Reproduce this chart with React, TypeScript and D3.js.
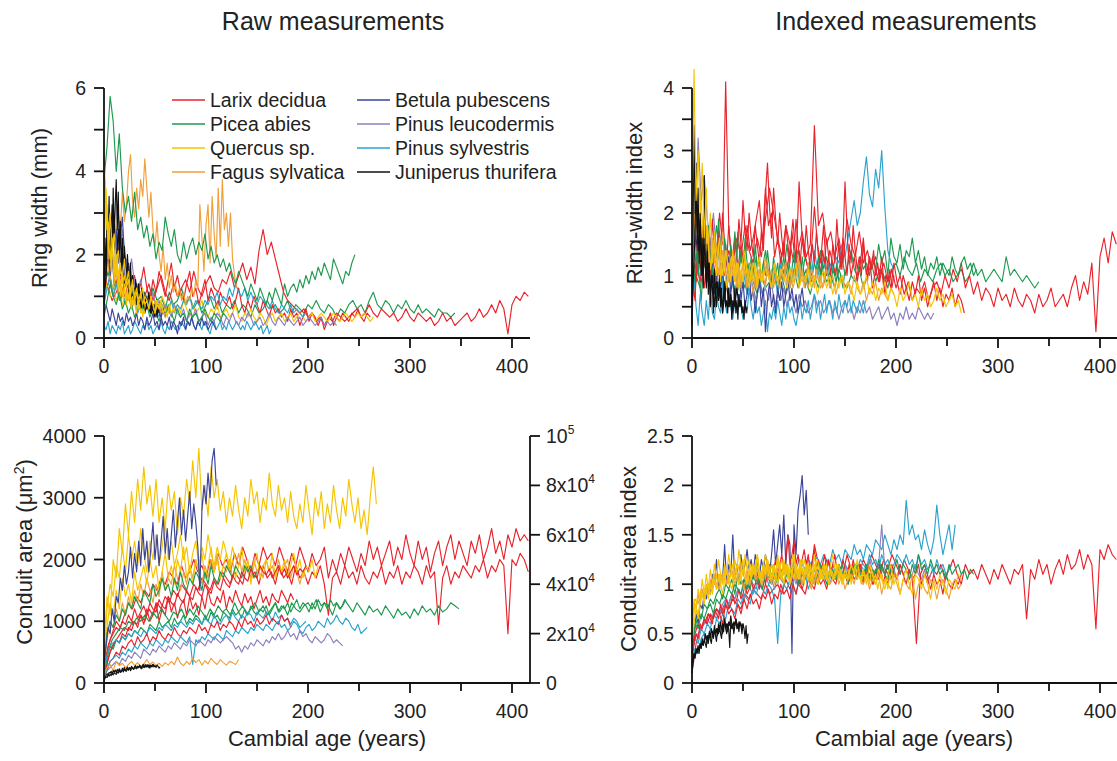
import React from 'react';
import * as d3 from 'd3';

const speciesNames = [
  'Larix decidua', 'Picea abies', 'Quercus sp.', 'Fagus sylvatica',
  'Betula pubescens', 'Pinus leucodermis', 'Pinus sylvestris', 'Juniperus thurifera',
];
const speciesColors = ['#e8232b', '#1e9a4f', '#f5c400', '#f0a03a', '#3a4399', '#8c80bd', '#2aa3cf', '#111111'];

const xTicks = [0, 50, 100, 150, 200, 250, 300, 350, 400];

// ---- ring width, raw (mm) ----
const rwLarixA = [1.4,1.2,0.9,1.1,1.3,1.0,1.2,0.8,1.1,0.9,1.0,1.3,0.9,1.2,1.5,1.1,0.9,1.3,1.0,1.2,1.4,1.1,1.6,1.2,1.0,1.3,1.5,1.2,1.1,1.4,1.3,1.6,1.2,1.5,1.8,1.4,1.7,1.3,2.1,2.6,2.0,2.3,1.9,1.5,1.1,0.9,0.8,0.7,0.6,0.7,0.5,0.6,0.4,0.5,0.3,0.5,0.4,0.6,0.5,0.4,0.5,0.6,0.7,0.5,0.6,0.8,0.6,0.5,0.7,0.6,0.5,0.6,0.4,0.5,0.7,0.5,0.4,0.6,0.5,0.4,0.5,0.3,0.4,0.6,0.4,0.5,0.3,0.4,0.5,0.6,0.4,0.5,0.7,0.5,0.6,0.8,0.6,0.9,0.7,0.1,0.8,1.0,0.9,1.1,1.0];
const rwLarixB = [1.8,1.2,1.5,1.0,1.3,1.6,1.1,1.4,0.9,1.2,1.5,1.0,1.3,1.7,1.2,0.9,1.4,1.1,1.6,1.3,1.0,1.4,1.8,1.2,1.5,1.1,0.9,1.3,1.6,1.0,1.2,0.8,1.1,1.4,0.9,1.2,1.0,0.7,1.1,0.9,0.8,1.0,0.7,0.9,1.2,0.8,0.6,0.9,0.7,1.0,0.8,0.6,0.9,0.7,0.5,0.8,0.6,0.7,0.5,0.6,0.4,0.7,0.5,0.6,0.3,0.5,0.7,0.4,0.6,0.5,0.3,0.5,0.2,0.4,0.6,0.3,0.5,0.4,0.6,0.5,0.4,0.6,0.5,0.7,0.5,0.4,0.6,0.5];
const rwPiceaA = [3.8,4.6,5.8,5.2,4.0,4.9,3.6,3.0,3.4,2.8,3.5,2.6,2.9,2.4,2.7,2.2,2.5,1.9,2.3,2.1,2.9,2.5,2.2,2.6,2.0,1.8,2.3,1.9,2.2,2.4,2.0,2.3,2.1,2.5,1.9,2.2,1.8,2.0,1.7,1.9,1.6,1.8,1.5,1.3,1.6,1.4,1.2,1.0,1.3,1.1,0.9,1.2,1.0,0.8,1.1,0.9,1.2,1.0,0.8,1.3,1.0,1.2,1.3,1.1,1.4,1.2,1.5,1.3,1.6,1.4,1.7,1.5,1.8,1.6,1.4,1.9,1.7,1.5,1.3,1.6,1.5,1.8,2.0];
const rwPiceaB = [1.2,1.6,1.1,1.4,0.9,1.2,1.5,1.0,1.3,0.9,1.1,0.8,1.2,0.9,1.0,0.7,1.1,0.8,0.9,1.2,0.8,1.0,0.7,0.9,0.6,0.8,1.0,0.7,0.9,0.6,0.8,0.7,0.9,0.6,0.8,0.7,0.5,0.8,0.6,0.7,0.9,0.7,0.8,0.6,0.7,0.9,0.6,0.8,0.7,0.6,0.8,0.7,0.9,0.7,0.6,0.8,0.7,0.5,0.7,0.6,0.8,0.9,0.7,0.8,0.6,0.9,1.1,0.8,0.7,0.9,0.8,0.6,0.8,0.7,0.9,0.7,0.6,0.8,0.6,0.7,0.6,0.5,0.7,0.6,0.6,0.5,0.6];
const rwPiceaC = [0.6,0.9,1.3,1.0,0.8,1.1,0.7,0.9,0.6,0.8,0.5,0.7,0.9,0.6,0.8,0.5,0.7,0.6,0.4,0.7,0.5,0.8,0.6,0.4,0.7,0.5,0.6,0.4,0.7,0.5,0.6,0.4,0.5,0.7,0.5,0.4,0.6,0.5,0.4,0.6,0.5];
const rwQuercusA = [4.4,3.2,2.6,3.0,2.2,2.5,1.8,2.1,1.6,1.4,1.9,1.3,1.6,1.1,1.4,1.0,1.2,0.9,1.1,0.8,1.0,0.9,0.7,1.0,0.8,0.6,0.9,0.7,0.8,0.6,0.7,0.5,0.8,0.6,0.7,0.6];
const rwQuercusB = [2.8,3.6,2.4,1.9,2.2,1.7,2.0,1.5,1.8,1.3,1.5,1.2,1.4,1.0,1.3,0.9,1.1,0.8,1.0,1.2,0.8,0.9,0.7,1.0,0.8,0.6,0.8,0.7,0.9,0.6,0.7];
const rwQuercusC = [1.5,1.2,1.0,1.3,0.9,1.1,0.8,1.0,1.2,0.8,0.9,1.1,0.7,0.9,1.0,0.8,0.6,0.9,0.7,1.0,0.8,0.6,0.9,0.7,0.8,0.6,0.9,0.7,0.5,0.8,0.6,0.7,0.9,0.6,0.5,0.7,0.6,0.8,0.5,0.6,0.7,0.5,0.6,0.8,0.5,0.4,0.6,0.5,0.7,0.5,0.4,0.6,0.5,0.3,0.5,0.6,0.4,0.5,0.6,0.4,0.5,0.6,0.4,0.5,0.6,0.5,0.4,0.5,0.6,0.4,0.5,0.6,0.5,0.4,0.5,0.6,0.5,0.4,0.5,0.6,0.5,0.4,0.5,0.6,0.5,0.6,0.5,0.4,0.5];
const rwQuercusD = [2.0,3.8,2.6,3.2,1.9,2.8,2.2,1.6,2.4,1.8,1.3,2.1,1.5,1.9,1.2,1.6,1.0,1.4,1.1,0.9,1.3,1.0,0.8,1.2,0.9,1.1,0.8,0.7,1.0,0.8,0.9,0.7,0.6,0.9,0.7,0.8,0.6,0.7,0.5,0.7,0.6];
const rwFagusA = [1.8,2.2,1.6,2.5,2.0,2.8,2.4,3.0,2.6,3.5,2.8,3.2,4.0,4.4,3.3,2.9,3.6,3.1,3.8,3.4,4.3,3.6,2.9,3.5,2.6,2.2,2.8,2.0,1.6,2.2,1.4,1.8,1.2,1.5,1.1,1.3,1.0,1.2,0.9,1.1,0.8,1.0,0.9,1.2,1.0,1.4,1.2,3.2,2.4,1.6,2.7,3.2,1.8,3.4,2.5,1.9,3.6,2.2,3.8,2.6,3.0,2.2,3.0,1.9,1.5,1.2];
const rwFagusB = [1.5,2.2,1.8,1.4,1.9,1.3,1.6,1.1,1.4,1.0,1.2,0.9,1.3,1.0,0.8,1.1,0.9,1.2,0.8,1.0,0.7,0.9,1.1,0.8,0.6,0.9,0.7,0.8,0.6,0.7,0.5];
const rwBetulaA = [0.5,0.8,0.6,0.4,0.7,0.5,0.3,0.6,0.4,0.5,0.3,0.6,0.4,0.5,0.3,0.4,0.6,0.3,0.5,0.4,0.2,0.5,0.3,0.4,0.6,0.3,0.4,0.2,0.5,0.3,0.4,0.3,0.5,0.2,0.4,0.3,0.1,0.4,0.3,0.5,0.2,0.4,0.3,0.5,0.3,0.2,0.4,0.3,0.5,0.3,0.4,0.2,0.3,0.4,0.3,0.2];
const rwBetulaB = [1.0,1.6,2.2,1.5,2.0,1.3,2.6,1.8,2.4,2.9,2.0,1.5,1.8,1.2,1.5,1.0,1.3,0.9,1.1,0.8,1.0,0.7,0.9,0.6,0.8,0.5,0.7,0.6,0.5,0.7,0.6];
const rwLeucoA = [1.5,2.2,2.8,3.0,2.4,2.0,2.6,1.8,1.5,1.9,1.3,1.1,1.4,0.9,1.0,0.8,1.1,0.7,0.9,0.6,0.8,0.7,0.5,0.8,0.6,0.5,0.7,0.4,0.6,0.5,0.7,0.4,0.5,0.6,0.3,0.5,0.4,0.6,0.5,0.3,0.5,0.4,0.6,0.4,0.3,0.5,0.4,0.6,0.5,0.3,0.4,0.5,0.3,0.4,0.6,0.4,0.3,0.5,0.4,0.3,0.5,0.4,0.3,0.4,0.5,0.3,0.4,0.5,0.4,0.3,0.4,0.5,0.3,0.4,0.3,0.4,0.3];
const rwLeucoB = [1.0,1.8,2.5,2.1,2.9,2.4,2.0,2.6,1.7,2.2,1.5,1.9,1.3,1.6,1.2,1.4,1.0,1.3,0.9,1.1,0.8,1.0,0.7,0.9,0.8,0.6,0.8,0.7,0.5,0.7,0.6];
const rwSylvA = [0.3,0.2,0.4,0.1,0.3,0.2,0.1,0.3,0.2,0.4,0.1,0.2,0.3,0.1,0.2,0.4,0.3,0.2,0.1,0.3,0.2,0.4,0.2,0.3,0.1,0.2,0.3,0.2,0.4,0.2,0.1,0.3,0.2,0.4,0.3,0.2,0.3,0.2,0.4,0.3,0.2,0.4,0.3,0.5,0.3,0.2,0.4,0.3,0.2,0.4,0.3,0.2,0.1,0.3,0.4,0.2,0.3,0.4,0.2,0.3,0.2,0.4,0.3,0.2,0.3,0.4,0.3,0.2,0.3,0.2,0.4,0.3,0.2,0.3,0.4,0.3,0.2,0.3,0.1,0.2,0.3,0.1,0.2];
const rwSylvB = [0.8,1.2,1.5,1.0,1.3,0.9,1.1,0.8,1.0,0.7,0.9,0.6,0.8,0.7,0.9,0.6,0.8,0.7,0.5,0.8,0.6,0.7,0.9,0.6,0.8,0.7,0.9,0.8,1.0,0.7,0.9,0.8,0.7,0.9,0.8,1.0,0.9,1.1,0.8,1.0,0.9,1.2,1.0,1.3,1.1,1.0,1.2,0.9,1.1,0.9,0.8,1.0,0.9,0.8,0.7,0.9,0.7,0.6,0.8,0.7,0.6,0.8,0.6,0.7,0.6,0.5,0.6];
const rwJuniperusA = [1.2,2.4,1.5,3.0,2.2,3.4,1.8,2.6,2.0,3.6,2.4,3.2,3.8,2.6,3.5,2.0,2.8,1.6,2.4,1.4,2.2,1.8,1.3,2.0,1.5,1.2,1.8,1.0,1.5,1.2,0.9,1.4,1.1,0.8,1.3,1.0,0.7,1.2,0.9,1.1,0.8,1.0,0.7,0.9,1.1,0.8,0.6,0.9,0.7,0.8,0.6,0.7,0.5,0.8,0.6];
const rwJuniperusB = [0.8,1.5,2.8,2.0,3.2,2.4,1.8,2.6,1.5,2.0,1.2,1.6,1.0,1.4,0.9,1.2,0.8,1.0,0.7,0.9,0.6,0.8,0.7,0.6,0.7,0.5];

// ---- ring-width index ----
const riLarixA = [0.8,1.2,0.9,1.5,1.1,1.3,0.9,1.2,1.0,1.4,1.2,1.6,1.3,1.8,1.4,1.2,1.6,1.3,1.9,2.4,2.0,1.6,1.3,1.8,1.5,1.2,1.4,1.7,1.3,1.5,3.4,1.8,2.0,1.5,1.7,1.3,1.6,1.2,1.9,1.5,1.3,1.7,1.2,1.4,1.1,1.3,1.0,1.2,0.9,1.1,0.8,1.0,0.7,0.9,0.6,0.8,0.7,0.9,0.6,0.8,0.9,0.7,1.0,0.8,1.1,0.9,1.2,0.8,1.0,0.7,0.9,0.6,0.8,0.7,0.5,0.8,0.6,0.7,0.5,0.8,0.6,0.5,0.7,0.6,0.4,0.7,0.5,0.6,0.8,0.5,0.6,0.7,0.5,0.8,1.0,0.6,0.9,0.7,1.2,0.1,1.3,1.6,1.2,1.7,1.5];
const riLarixB = [1.0,0.6,1.8,1.2,0.8,1.4,1.0,1.6,1.3,2.0,1.5,4.1,1.8,1.2,1.6,1.1,1.5,1.2,1.8,1.4,1.6,1.9,2.2,1.5,2.4,1.8,2.0,1.3,1.6,1.2,1.5,1.1,1.4,1.9,1.2,2.5,1.6,1.3,1.1,1.4,2.1,1.5,1.2,1.8,1.0,1.4,1.2,1.0,1.5,1.1,2.5,1.4,1.0,1.3,0.9,1.2,1.6,1.0,1.3,0.8,1.1,0.9,1.3,0.7,1.0,0.8,1.2,0.9,0.7,1.0,0.8,0.6,0.9,0.7,1.0,0.6,0.8,0.5,0.7,0.9,0.6,0.8,0.5,0.7,0.6,0.8,0.5,0.7,0.6,0.4];
const riLarixC = [0.6,1.2,0.9,1.5,1.1,1.8,1.3,1.0,1.6,1.2,1.9,1.4,1.1,1.7,1.3,2.0,1.5,1.2,1.8,1.4,1.1,1.6,1.3,1.9,1.5,2.2,1.7,1.4,2.0,1.6,1.3,1.8,1.5,1.2,1.7,1.4,2.3,2.8,2.1,1.6,2.4,1.9,1.5,2.0,1.6,1.3,1.8,1.5,1.2,1.7,1.4,1.9,1.5,1.2,1.6,1.3,1.8,1.4,1.1,1.5,1.2,1.7,1.3,1.0,1.4,1.2,1.6,1.3,1.0,1.5,1.2,1.9,1.4,1.1,1.6,1.3,1.0,1.5,1.2,1.8,1.4,1.1,1.3,1.0,1.5,1.2,0.9,1.3,1.1,1.4,1.0,1.2,0.9,1.1,0.8,1.0,0.9,1.1,0.8,1.0];
const riPiceaA = [1.5,0.8,1.2,0.6,1.4,1.0,1.6,1.2,1.8,1.4,1.1,1.5,0.9,1.3,1.0,1.7,1.2,1.4,0.9,1.2,1.0,1.3,0.8,1.1,1.4,1.0,0.8,1.2,0.9,1.3,1.0,1.5,1.1,0.9,1.2,1.4,1.0,1.3,1.1,0.9,1.2,1.0,1.4,1.1,1.3,1.0,1.2,0.9,1.1,1.3,1.0,1.2,1.4,1.1,1.0,1.3,1.1,1.2,1.0,1.3,1.1,1.5,1.2,1.4,1.0,1.6,1.3,1.2,1.5,1.1,1.4,1.3,1.6,1.2,1.4,1.1,1.3,1.0,1.2,1.1,1.3,1.0,1.2,1.1,1.0,1.3,1.1,1.0,1.2,1.3,1.1,1.2,1.0,1.1];
const riPiceaB = [0.6,1.0,0.8,1.2,0.9,1.1,0.7,1.0,0.8,1.1,0.9,0.7,1.0,0.8,1.2,0.9,0.7,1.0,0.8,0.9,1.1,0.8,1.0,0.7,0.9,1.1,0.8,1.0,0.9,0.7,1.0,0.8,1.1,0.9,1.0,0.8,1.1,0.9,0.8,1.0,0.9,1.1,0.8,1.0,1.2,0.9,1.1,1.0,0.8,1.1,1.2,1.0,1.3,1.1,1.0,1.2,0.9,1.1,1.0,0.9,1.1,1.2,1.0,1.1,0.9,1.0,1.1,0.9,1.0,1.2,1.0,1.1,0.9,1.0,1.1,1.0,0.9,1.3,1.0,1.1,1.0,0.9,1.0,0.9,0.8,0.9];
const riPiceaC = [1.2,0.9,1.4,1.0,1.7,1.2,1.5,1.1,1.8,1.3,1.0,1.5,1.2,1.9,1.4,1.1,1.6,1.3,1.0,1.5,1.2,1.7,1.3,1.0,1.4,1.1,1.6,1.2,0.9,1.3,1.0,1.5,1.1,1.3,0.9,1.2,1.0,1.4,1.1,0.9,1.3,1.0,1.2,0.8,1.1,1.3,1.0,1.2,0.9,1.1,1.4,1.0,1.2,0.9,1.3,1.0,1.1,0.8,1.2,1.0,0.9,1.1,1.3,1.0,1.2,0.9,1.1,1.0,0.8,1.1,1.0,1.2,0.9,1.0,0.8,1.1];
const riQuercusA = [1.8,4.3,2.2,3.0,2.0,2.8,1.6,2.4,1.4,2.0,1.2,1.7,1.0,1.5,0.9,1.3,1.1,0.8,1.2,0.9,1.4,1.0,1.2,0.8,1.1,0.9,1.3,1.0,0.8,1.1,0.9,1.2,0.8,1.0,0.9,1.1];
const riQuercusB = [1.4,2.9,1.6,2.2,1.3,1.8,1.1,1.5,1.2,1.6,1.0,1.4,1.1,1.3,0.9,1.2,1.0,1.4,1.1,0.9,1.2,1.0,1.3,0.9,1.1,1.0,0.8,1.2,0.9,1.1,1.0,0.8,1.1,0.9,1.2,0.8,1.0,0.9,1.1,0.8,1.0,0.7,0.9,1.1,0.8,1.0,0.7,0.9,0.8,1.0,0.7,0.9,0.8,0.6,0.9,0.7,0.8,1.0,0.7,0.9,0.6,0.8,0.7,0.9,0.6,0.8,0.7,0.5,0.8,0.6,0.7,0.9,0.6,0.7,0.5,0.8,0.6,0.7,0.5,0.6,0.8,0.6,0.7,0.5,0.6,0.7,0.5,0.6,0.4];
const riFagusA = [1.2,1.8,2.2,1.5,2.0,1.6,1.3,1.8,1.4,1.1,1.6,1.2,1.5,1.0,1.3,1.7,1.1,1.4,0.9,1.2,1.0,1.3,0.8,1.1,0.9,1.2,1.0,0.8,1.1,0.9,0.7,1.0,0.8,1.1,0.9,1.0,0.8,1.2,0.9,1.1,0.8,1.0,0.9,0.8,1.1,0.9,1.2,1.0,0.8,1.1,0.9,1.0,1.3,0.9,1.1,0.8,1.0,1.2,0.9,1.0,0.8,1.1,0.9,1.0,0.8,0.9];
const riFagusB = [1.3,2.0,1.6,1.2,1.8,1.4,1.1,1.5,1.2,1.0,1.4,1.1,0.9,1.3,1.0,1.2,0.8,1.1,0.9,1.2,1.0,0.8,1.1,0.9,1.3,1.0,0.8,1.1,0.9,1.0,1.2,0.9,1.1,0.8,1.0,1.2,0.9,1.0,0.8,1.1,0.9,1.0,0.8,0.9,1.1,0.8,1.0,0.7,0.9,1.0,0.8,0.9,0.7,1.0,0.8,0.7,0.9,0.6,0.8,0.7,0.9,0.6,0.8,0.7,0.6,0.8,0.7];
const riBetulaA = [1.0,2.0,1.4,1.8,1.2,1.6,2.2,1.0,1.4,0.8,1.2,0.7,1.0,1.5,0.8,1.1,0.6,0.9,1.3,0.7,1.0,0.5,0.8,1.2,0.6,0.9,0.5,0.7,1.1,0.6,0.8,0.4,0.7,1.0,0.5,0.8,0.1,0.6,0.9,0.5,0.7,0.4,0.8,0.6,0.9,0.5,0.7,1.0,0.6,0.8,0.5,0.7,0.4,0.6,0.8,0.5];
const riLeucoA = [0.8,1.6,3.2,2.2,2.6,1.9,1.5,2.0,1.4,1.7,1.2,1.5,1.0,1.3,0.9,1.2,0.8,1.1,0.7,1.0,0.8,0.6,0.9,0.7,0.8,0.6,0.9,0.5,0.7,0.6,0.8,0.5,0.7,0.6,0.4,0.7,0.5,0.6,0.4,0.5,0.7,0.5,0.6,0.4,0.5,0.6,0.4,0.5,0.3,0.5,0.6,0.4,0.5,0.3,0.5,0.4,0.6,0.4,0.5,0.3,0.4,0.5,0.3,0.4,0.5,0.3,0.4,0.2,0.4,0.3,0.5,0.3,0.4,0.3,0.5,0.4,0.3,0.4,0.3,0.4];
const riSylvA = [0.3,1.0,0.5,0.2,0.7,0.4,0.2,0.6,0.3,0.8,0.4,0.3,0.7,0.5,0.4,0.9,0.6,0.4,0.8,0.5,0.3,0.6,0.4,0.7,0.5,0.3,0.6,0.4,0.8,0.5,0.3,0.6,0.4,0.5,0.2,0.4,0.6,0.1,0.4,0.3,0.5,0.3,0.6,0.4,0.2,0.5,0.3,0.6,0.4,0.5,0.3,0.2,0.4,0.6,0.3,0.5,0.4,0.6,0.3,0.5,0.7,0.4,0.6,0.3,0.5,0.7,0.4,0.6,0.5,0.3,0.6,0.4,0.7,0.5,0.4,0.6,0.5,0.7,0.4,0.6,0.5,0.4,0.6,0.5,0.4,0.6];
const riSylvB = [1.2,0.8,1.5,1.0,1.3,0.9,1.2,0.8,1.1,0.7,1.0,0.8,1.2,0.9,0.7,1.1,0.8,1.0,0.7,0.9,1.2,0.8,1.0,0.7,0.9,1.1,0.8,1.0,0.7,1.2,0.9,1.1,0.8,1.0,1.3,0.9,1.1,0.8,1.2,1.0,1.4,1.1,0.9,1.3,1.0,1.2,1.1,1.3,1.2,1.5,1.3,1.6,1.9,2.2,1.8,2.0,2.5,2.9,2.3,2.1,2.7,2.4,3.0,2.1,1.4,1.2,1.1];
const riJuniperusA = [0.2,1.8,3.4,2.0,2.8,1.5,2.4,1.2,2.0,1.0,1.6,0.8,2.6,1.2,0.9,1.5,0.7,1.2,0.5,1.0,0.8,0.4,1.1,0.7,0.5,0.9,0.6,1.0,0.5,0.8,0.4,0.7,0.9,0.5,0.6,0.4,0.8,0.5,0.7,0.3,0.6,0.5,0.8,0.4,0.6,0.3,0.7,0.5,0.6,0.4,0.5,0.3,0.6,0.4,0.5];
const riJuniperusB = [0.5,1.2,2.4,1.4,1.9,1.0,1.5,0.8,1.2,0.7,1.0,0.5,0.9,0.6,0.8,0.4,0.7,0.9,0.5,0.7,0.4,0.6,0.8,0.5,0.6,0.4];

// ---- conduit area, raw (µm²) ----
const caQuercusA = [600,1400,1100,2000,1700,2500,2100,2900,2400,3100,2600,3300,2800,3500,2900,3200,2700,3300,2600,3000,2500,3200,2800,3100,2400,3000,2700,3300,2900,3600,3000,3800,2800,3200,2700,3500,3000,3300,2800,3100,2600,3000,2700,3200,2800,2500,3000,2700,3300,2900,3100,2600,3000,2800,3400,2900,2700,3200,2800,3000,2600,3100,2700,2500,2900,2600,3200,2800,2400,3000,2700,3100,2500,2900,2600,3200,2800,2500,3000,2700,3300,2900,2600,3000,2500,2800,2400,3000,3500,2900];
const caQuercusB = [400,900,1300,1100,1500,1200,1700,1400,1600,1300,1800,1500,1700,1900,1600,2000,1700,1900,1500,1800,2100,1700,1900,1600,2000,1800,2200,1700,1900,1600,2000,1800,2100,1700,1900,2200,1800,2000,1700,1900,2100,1800,2000,1700,1900,2200,1800,2000,1600,1900,2100,1700,1900,2000,1800,2100,1700,1900,1800,2000,1700,1900,2100,1800,2000,1700,1900,1800,2000,1700,1900];
const caQuercusC = [500,1200,1600,1400,1900,1700,2200,1800,2400,2000,2300,1900,2500,2100,1800,2300,2000,2400,1900,2200,2600,2000,2300,1900,2100,2400,2000,2200,1800,2100,2300,1900,2200,2000,2400,2100,1900,2200,2000,2300,2100,1900,2200,2000];
const caFagusA = [150,250,300,200,350,280,320,250,300,350,280,330,260,310,380,300,340,280,320,270,330,290,350,300,420,320,280,350,300,400,330,380,290,360,310,400,340,300,380,330,290,350,330,300,380];
const caFagusB = [300,700,1000,900,1200,1000,1300,1100,1400,1200,1500,1300,1600,1400,1700,1500,1300,1600,1400,1800,1500,1700,1600,1900,1700,1500,1800,1600,1900,1700,2000,1800,1600,1900,1700,2000,1800,2100,1700,1900,1800,2000,1700,1900,2100,1800,2000,1800,1700,2000,1800,1900,1700,2000,1800,1900,1700,2000,1800,1900,2000,1700,1900,1800,1600,1800,1700];
const caBetulaA = [300,600,900,800,1200,1000,1400,1300,1700,1500,1900,1600,1800,2200,1700,2100,1800,2300,1900,2500,2000,2300,1800,2200,2600,2000,2400,1900,2300,2700,2100,2500,2000,2400,2800,2200,2600,3000,2400,2800,2300,2700,3100,2500,2900,2600,2200,1500,2800,3200,2900,3400,3000,3600,3800,3200];
const caLarixA = [200,600,800,1000,900,1100,1300,1200,1400,1300,1500,1400,1600,1500,1700,1600,1800,1700,1600,1900,1700,1800,2000,1800,1900,1700,2000,1800,2100,1900,2000,1800,2100,1900,2200,2000,1800,2100,1900,2200,2000,2100,1900,2200,2000,1800,2100,1900,2200,2000,1800,2100,1900,2000,2200,1700,2000,1800,2100,1900,2200,2000,1800,2100,1900,2300,2000,2200,1900,2100,2300,1900,2200,2000,2400,2100,1900,2300,2000,2200,1800,2100,2300,1900,2200,2400,2000,2300,2100,1900,2300,2100,2400,2000,2200,2500,2100,2300,2000,2400,2200,2500,2300,2400,2300];
const caLarixB = [100,400,600,700,800,900,850,1000,950,1100,1000,1200,1100,1300,1200,1400,1300,1500,1400,1600,1500,1400,1600,1500,1700,1600,1500,1700,1600,1800,1700,1600,1800,1700,1600,1900,1700,1800,1600,1900,1700,1800,1600,1900,1700,1800,1600,1900,1700,1800,1600,1800,1700,1900,1600,1100,1700,1800,1600,1900,1700,1800,1600,1900,1700,1600,1800,1700,1900,1600,1800,1700,1900,1600,1800,1700,1900,1800,1600,1900,1700,1800,950,1700,1900,1600,1800,1700,1900,1800,1700,1900,1800,2000,1700,1900,1800,2000,1900,800,2000,1900,2100,2000,1800];
const caLarixC = [100,300,500,600,700,650,800,750,900,850,1000,900,1100,950,1200,1000,1100,1300,1000,1200,1100,1400,1150,1300,1050,1250,1350,1100,1400,1200,1300,1100,1400,1200,1500,1300,1250,1400,1300,1500,1200,1400,1300,1500,1350,1250,1450,1300,1400,1200,1350,1500,1300,1400,1250,1450,1350,1300,1500,1400,1300,1450,1350];
const caLarixD = [100,200,350,400,500,450,600,550,650,700,600,750,650,700,800,650,750,700,850,750,700,800,750,900,800,750,850,800,900,850,800,950,850,900,800,950,900,1000,850,950,900,1000,950,850,1000,900,1050,950,1000,900,1050,950,1000,1100,950,1050,1000,950,1100,1000,1050,900];
const caLarixE = [150,500,700,800,900,850,1000,950,1100,1000,1200,1050,1150,1250,1100,1300,1200,1150,1350,1250,1200,1400,1300,1250,1450,1350,1300,1500,1400,1350,1550,1450,1400,1600,1500,1450,1650,1550,1500,1700,1600,1550,1750,1650,1600,1800,1700,1650,1850,1750,1700,1900,1800,1750,1850,1700,1800,1900,1750,1850,1700,1800,1900,1750,1850,1800,1900];
const caPiceaA = [200,500,700,800,900,850,1000,950,1050,1000,1100,1000,1150,1050,1200,1100,1000,1150,1100,1200,1050,1200,1100,1250,1150,1050,1200,1100,1250,1150,1200,1100,1300,1150,1250,1100,1200,1300,1150,1250,1100,1200,1300,1150,1250,1100,1300,1200,1150,1250,1300,1200,1350,1150,1300,1250,1100,1300,1200,1350,1250,1150,1300,1200,1100,1250,1150,1200,1100,1250,1150,1050,1200,1100,1150,1050,1200,1100,1250,1150,1200,1100,1250,1150,1200,1300,1250,1200];
const caPiceaB = [150,400,600,550,700,650,750,700,800,750,850,800,900,850,800,950,900,850,1000,900,950,1000,900,1050,950,1000,1100,950,1050,1000,1100,1050,950,1100,1000,1150,1050,1100,1000,1150,1100,1050,1200,1100,1150,1050,1200,1100,1250,1150,1100,1200,1150,1250,1100,1200,1300,1150,1250,1200,1300,1150,1250,1350,1200,1300,1250,1150,1300,1200,1350,1250,1300,1200,1350,1250,1300,1200,1250,1350];
const caPiceaC = [300,800,1000,900,1100,1000,1200,1100,1300,1200,1400,1300,1200,1500,1400,1300,1600,1400,1500,1700,1500,1600,1400,1700,1500,1800,1600,1500,1700,1600,1800,1700,1500,1800,1600,1900,1700,1600,1800,1700,1900,1800,1700,1900,1800,1700,1900,1800,1900,1700,1800];
const caLeucoA = [100,200,250,300,350,300,400,350,450,400,500,450,400,550,500,450,550,500,600,550,500,600,550,650,600,550,650,600,700,650,600,700,650,600,700,650,750,700,650,700,750,700,650,550,600,500,600,550,650,600,700,650,600,700,650,750,700,800,700,750,850,750,800,700,850,750,800,700,650,750,700,650,700,800,750,650,700,650,600];
const caSylvA = [100,250,350,400,450,400,500,450,550,500,600,550,650,600,550,650,600,700,650,600,700,650,750,700,650,750,700,650,750,300,700,650,750,700,800,750,700,800,750,700,850,800,750,850,800,900,850,800,900,850,950,900,850,950,900,850,950,1000,900,950,850,900,1000,950,850,800,900,950,850,900,1000,950,900,1050,950,1000,1100,1000,950,1050,1000,900,850,950,800,850,900];
const caSylvB = [200,450,600,650,700,650,750,700,800,750,850,800,750,850,800,900,850,800,900,850,950,900,850,950,900,1000,950,900,1000,950,1050,1000,950,1050,1000,950,1100,1000,950,1050,1100,1000,1150,1050,1000,1100,1050,1150,1100,1000,1150,1100,1050,1150,1100,1000,1150,1050,1100,1000,1050,950,1050,1000,900,950,1000];
const caJuniperusA = [50,100,120,150,130,170,160,190,150,200,180,210,170,220,190,230,200,180,240,210,250,200,230,260,210,250,230,270,240,220,260,280,240,270,250,290,260,230,280,300,250,280,260,300,270,240,290,270,300,260,280,250,290,270,240,260];
const caJuniperusB = [30,80,100,90,130,110,140,120,160,130,170,150,140,180,160,200,170,190,210,180,220,200,190,230,210,240,200,230,250,220,260,240,230,270,250,280,240,260,290,250,270,300,260,280,250,290,270,260,300,280,270];

// ---- conduit-area index ----
const ciLarixA = [0.1,0.4,0.55,0.6,0.7,0.65,0.75,0.7,0.8,0.75,0.85,0.8,0.75,0.9,0.85,0.95,0.9,0.85,1.0,0.9,0.95,1.0,0.9,1.05,0.95,1.1,1.0,0.95,1.1,1.05,1.4,1.2,1.1,1.25,1.15,1.05,1.2,1.1,1.3,1.15,1.2,1.1,1.25,1.15,1.3,1.2,1.1,1.25,1.15,1.3,1.2,1.1,1.25,1.15,1.05,0.4,1.1,1.2,1.05,1.15,1.1,1.2,1.05,1.15,1.25,1.1,1.0,1.2,1.1,1.15,1.05,1.2,1.1,1.0,1.15,1.05,1.2,1.1,1.0,1.15,1.1,1.2,0.65,1.15,1.05,1.25,1.1,1.2,1.0,1.15,1.25,1.1,1.3,1.15,1.2,1.35,1.15,1.3,1.2,0.55,1.35,1.25,1.4,1.3,1.25];
const ciLarixB = [0.3,0.5,0.6,0.55,0.65,0.6,0.7,0.65,0.75,0.7,0.6,0.8,0.7,0.75,0.65,0.8,0.7,0.85,0.75,0.9,0.8,0.85,0.75,0.9,0.85,0.95,0.8,0.9,0.85,1.0,0.9,0.95,0.85,1.0,0.9,1.05,0.95,0.9,1.05,1.0,0.95,1.1,1.0,1.05,0.95,1.1,1.05,1.0,1.15,1.05,1.1,1.0,1.15,1.05,1.1,1.2,1.05,1.15,1.1,1.0,1.15,1.05,1.2,1.1,1.0,1.15,1.1,1.05,1.2,1.1,1.0,1.15,1.05,1.1,1.2,1.0,1.1,1.05,0.95,1.1,1.0,1.05,0.9,1.1,1.0,0.95,1.05,1.0,1.1];
const ciLarixC = [0.2,0.4,0.5,0.45,0.6,0.55,0.65,0.6,0.7,0.65,0.6,0.75,0.7,0.65,0.8,0.7,0.75,0.85,0.75,0.8,0.9,0.8,0.85,0.95,0.85,0.9,1.0,0.9,0.95,1.05,0.95,1.0,1.1,0.95,1.05,1.15,1.0,1.1,1.2,1.05,1.15,1.25,1.1,1.2,1.3,1.15,1.25,1.5,1.2,1.3,1.45,1.2,1.3,1.15,1.25,1.35,1.2,1.3,1.1,1.25,1.35,1.15,1.25,1.1,1.2,1.3,1.15,1.25,1.1,1.2,1.3,1.15,1.2,1.1,1.25,1.15,1.05,1.2,1.1,1.25,1.15,1.05,1.2,1.1,1.0,1.15,1.05,1.2,1.1,1.0,1.15,1.05,1.2,1.1,1.0,1.15,1.1,1.05,1.2,1.1];
const ciPiceaA = [0.4,0.55,0.7,0.65,0.8,0.75,0.85,0.8,0.9,0.95,0.85,1.0,0.95,1.05,0.9,1.1,1.0,1.05,0.95,1.1,1.05,1.2,1.0,1.1,1.15,1.05,1.2,1.1,1.0,1.15,1.1,1.2,1.05,1.15,1.1,1.0,1.15,1.05,1.2,1.1,1.15,1.05,1.2,1.1,1.0,1.15,1.1,1.05,1.2,1.1,1.15,1.0,1.1,1.2,1.05,1.15,1.1,1.2,1.05,1.15,1.1,1.25,1.15,1.1,1.2,1.05,1.15,1.25,1.1,1.2,1.15,1.05,1.2,1.1,1.3,1.15,1.2,1.1,1.25,1.15,1.2,1.1,1.15,1.05,1.2,1.1,1.15,1.2,1.1,1.15,1.05,1.15,1.1];
const ciPiceaB = [0.45,0.6,0.55,0.7,0.65,0.75,0.8,0.7,0.85,0.8,0.9,0.85,0.95,0.9,1.0,0.95,0.9,1.05,1.0,0.95,1.1,1.0,1.05,0.95,1.1,1.05,1.0,1.1,1.05,1.15,1.0,1.1,1.05,1.15,1.1,1.0,1.1,1.05,1.15,1.1,1.05,1.15,1.1,1.2,1.05,1.1,1.15,1.05,1.1,1.2,1.1,1.05,1.15,1.1,1.2,1.1,1.05,1.15,1.1,1.05,1.15,1.1,1.2,1.1,1.05,1.15,1.1];
const ciQuercusA = [0.5,0.8,0.7,0.9,0.85,1.0,0.9,1.05,0.95,1.1,1.0,1.15,1.05,0.95,1.1,1.2,1.05,1.15,1.0,1.2,1.1,1.25,1.05,1.15,1.3,1.1,1.2,1.05,1.25,1.15,1.0,1.2,1.1,1.3,1.15,1.05,1.25,1.1,1.2,1.0,1.15,1.25,1.1,1.2,1.05,1.15,1.3,1.1,1.2,1.0,1.15,1.05,1.2,1.1,1.25,1.05,1.15,1.0,1.2,1.1,1.0,1.15,1.05,0.95,1.1,1.2,1.0,1.1,0.9,1.05,1.15,1.0,0.9,1.1,1.05,0.95,1.1,1.0,0.85,1.05,0.95,1.1,1.0,0.9,1.05,1.0,0.95,1.1,1.05];
const ciQuercusB = [0.4,0.6,0.75,0.65,0.8,0.9,0.8,0.95,0.85,1.0,0.9,1.05,0.95,1.1,1.0,0.9,1.05,1.15,1.0,1.1,1.2,1.05,1.15,1.0,1.1,1.25,1.1,1.0,1.15,1.05,1.2,1.1,1.3,1.15,1.05,1.2,1.1,1.25,1.15,1.05,1.2,1.1,1.0,1.15,1.25,1.1,1.2,1.05,1.15,1.1,1.3,1.15,1.05,1.2,1.1,1.25,1.15,1.05,1.2,1.1,1.3,1.15,1.2,1.05,1.15,1.1,1.2,1.0,1.15,1.1,1.05,1.2,1.1,1.15,1.05,1.1];
const ciQuercusC = [0.6,0.85,0.75,0.95,0.85,1.05,0.9,1.1,0.95,1.15,1.0,1.2,1.05,1.25,1.1,1.0,1.2,1.1,1.3,1.15,1.05,1.25,1.15,1.35,1.2,1.1,1.3,1.15,1.25,1.05,1.2,1.1,1.3,1.15,1.0,1.2,1.1,1.25,1.15,1.05,1.2,1.1,1.3,1.15,1.05,1.25,1.1,1.2,1.0,1.15,1.05,1.2,1.1,1.25,1.15,1.0,1.2,1.1,1.15,1.05,1.2,1.1,1.0,1.15,1.05,1.2,1.1,1.0,1.15,1.05,1.1,1.2,1.05,1.15,1.0,1.1,1.05,1.15,1.0,1.1,1.2,1.05,1.1,1.0,1.15,1.05,1.1,1.0,1.15,1.05,1.1,0.95,1.05,1.1,1.0,1.05,0.95,1.1,1.0,1.05];
const ciFagusA = [0.6,0.8,0.75,0.9,0.8,0.95,0.85,1.0,0.9,1.05,0.95,1.1,1.0,0.95,1.1,1.05,1.15,1.0,1.1,1.2,1.05,1.15,1.1,1.0,1.2,1.1,1.05,1.15,1.0,1.1,1.2,1.05,1.15,1.1,1.0,1.15,1.05,1.2,1.1,1.0,1.15,1.1,1.25,1.1,1.05,1.2,1.1,1.15,1.0,1.1,1.2,1.05,1.15,1.1,1.0,1.15,1.1,1.2,1.05,1.1,1.0,1.15,1.1,1.05,1.1,1.15];
const ciFagusB = [0.7,0.85,0.8,0.95,0.9,1.0,0.95,1.05,1.0,0.95,1.1,1.0,1.05,1.15,1.0,1.1,1.05,0.95,1.1,1.0,1.15,1.05,1.1,1.0,1.2,1.05,1.1,1.0,1.15,1.05,1.1,1.2,1.0,1.1,1.05,1.15,1.0,1.1,1.05,0.95,1.1,1.0,1.15,1.05,1.1,1.0,1.05,1.15,1.0,1.1,0.95,1.05,1.1,1.0,1.15,1.05,1.0,1.1,0.95,1.05,1.0,1.1,0.9,1.05,1.0,0.95,1.1,1.0,0.9,1.05,1.0,0.95,1.1,0.85,1.0,1.05,0.95,0.9,1.05,1.0,0.85,1.0,1.05,0.95,0.85,1.0,1.05,0.95,1.0];
const ciBetulaA = [0.3,0.5,0.7,0.6,0.8,0.75,0.9,0.85,1.0,0.9,1.1,1.0,1.25,0.95,1.1,1.05,1.4,1.0,1.2,1.1,1.5,1.05,1.2,1.0,1.3,1.1,1.2,1.35,1.15,1.25,1.1,1.3,1.2,1.05,1.25,1.15,1.3,1.2,1.1,1.3,1.55,1.2,1.4,1.6,1.3,1.7,1.2,1.5,1.4,0.3,1.6,1.3,1.75,1.9,2.1,1.7,1.95,1.5];
const ciLeucoA = [0.3,0.45,0.5,0.55,0.6,0.65,0.6,0.7,0.75,0.7,0.8,0.85,0.8,0.9,0.85,0.95,0.9,0.85,1.0,0.95,0.9,1.05,1.0,0.95,1.1,1.0,1.05,0.95,1.1,1.05,1.0,1.15,1.05,1.1,1.0,1.15,1.1,1.05,1.2,1.1,1.15,1.05,1.2,1.1,1.15,1.0,1.1,1.05,1.15,1.1,1.2,1.1,1.05,1.15,1.1,1.2,1.15,1.1,1.25,1.15,1.05,1.2,1.6,1.15,1.1,1.2,1.15,1.05,1.2,1.1,1.15,1.05,1.1,1.2,1.1,1.05,1.15,1.0,1.1];
const ciSylvA = [0.2,0.35,0.3,0.45,0.5,0.4,0.55,0.5,0.65,0.6,0.7,0.65,0.8,0.75,0.7,0.85,0.8,0.9,0.85,0.8,0.95,0.9,1.0,0.95,0.9,1.0,0.95,0.85,0.4,0.9,1.0,0.95,1.05,1.0,0.9,1.05,1.0,1.1,0.95,1.05,1.0,1.1,1.05,1.15,1.1,1.05,1.2,1.1,1.15,1.05,1.2,1.15,1.1,1.2,1.15,1.25,1.2,1.15,1.3,1.2,1.25,1.15,1.3,1.2,1.25,1.15,1.2,1.3,1.25,1.2,1.3,1.2,1.25,1.15,1.3,1.2,1.25,1.15,1.2,1.1,1.25,1.15,1.2,1.1,1.15,1.2];
const ciSylvB = [0.3,0.45,0.4,0.55,0.5,0.6,0.55,0.7,0.65,0.75,0.7,0.85,0.8,0.9,0.85,0.95,0.9,1.0,0.95,1.05,1.0,0.95,1.1,1.0,1.05,1.15,1.1,1.05,1.15,1.1,1.2,1.15,1.1,1.2,1.15,1.25,1.2,1.15,1.25,1.2,1.3,1.25,1.2,1.3,1.25,1.2,1.35,1.25,1.3,1.2,1.35,1.3,1.25,1.4,1.3,1.35,1.25,1.4,1.35,1.3,1.45,1.4,1.35,1.5,1.4,1.3,1.45,1.35,1.5,1.4,1.85,1.5,1.6,1.45,1.5,1.35,1.55,1.4,1.3,1.45,1.8,1.5,1.3,1.45,1.6,1.35,1.6];
const ciJuniperusA = [0.15,0.25,0.3,0.28,0.35,0.32,0.38,0.3,0.4,0.35,0.42,0.38,0.45,0.4,0.36,0.48,0.42,0.5,0.44,0.4,0.52,0.46,0.55,0.48,0.42,0.55,0.5,0.58,0.5,0.45,0.6,0.52,0.65,0.55,0.5,0.6,0.54,0.36,0.62,0.55,0.6,0.5,0.58,0.65,0.55,0.6,0.52,0.62,0.58,0.5,0.6,0.55,0.45,0.58,0.4,0.5];
const ciJuniperusB = [0.1,0.2,0.28,0.25,0.32,0.3,0.36,0.33,0.4,0.35,0.45,0.38,0.42,0.5,0.44,0.48,0.4,0.52,0.46,0.55,0.5,0.45,0.58,0.5,0.55,0.48,0.6,0.52,0.62,0.55,0.5,0.58,0.65,0.55,0.6,0.52,0.62,0.58,0.68,0.6,0.55,0.62,0.58,0.65,0.6,0.55,0.62,0.58,0.6,0.55,0.6];

type Series = { sp: number; step: number; v: number[] };

const ringRaw: Series[] = [
  { sp: 1, step: 4, v: rwPiceaB }, { sp: 0, step: 4, v: rwLarixA }, { sp: 0, step: 3, v: rwLarixB },
  { sp: 2, step: 3, v: rwQuercusC }, { sp: 6, step: 2, v: rwSylvA }, { sp: 4, step: 2, v: rwBetulaA },
  { sp: 5, step: 3, v: rwLeucoA }, { sp: 6, step: 3, v: rwSylvB }, { sp: 1, step: 3, v: rwPiceaC },
  { sp: 3, step: 2, v: rwFagusA }, { sp: 1, step: 3, v: rwPiceaA }, { sp: 3, step: 2, v: rwFagusB },
  { sp: 5, step: 2, v: rwLeucoB }, { sp: 4, step: 2, v: rwBetulaB }, { sp: 7, step: 1, v: rwJuniperusA },
  { sp: 7, step: 2, v: rwJuniperusB }, { sp: 2, step: 1, v: rwQuercusD },
  { sp: 2, step: 2, v: rwQuercusB }, { sp: 2, step: 2, v: rwQuercusA },
];
const ringIdx: Series[] = [
  { sp: 1, step: 4, v: riPiceaB }, { sp: 0, step: 4, v: riLarixA }, { sp: 1, step: 3, v: riPiceaA },
  { sp: 5, step: 3, v: riLeucoA }, { sp: 6, step: 2, v: riSylvA }, { sp: 6, step: 3, v: riSylvB },
  { sp: 4, step: 2, v: riBetulaA }, { sp: 0, step: 2, v: riLarixC }, { sp: 0, step: 3, v: riLarixB },
  { sp: 1, step: 2, v: riPiceaC }, { sp: 3, step: 3, v: riFagusB }, { sp: 3, step: 2, v: riFagusA },
  { sp: 2, step: 3, v: riQuercusB }, { sp: 7, step: 1, v: riJuniperusA }, { sp: 7, step: 2, v: riJuniperusB },
  { sp: 2, step: 2, v: riQuercusA },
];
const areaRaw: Series[] = [
  { sp: 0, step: 4, v: caLarixA }, { sp: 0, step: 4, v: caLarixB }, { sp: 2, step: 3, v: caQuercusA },
  { sp: 3, step: 3, v: caFagusB }, { sp: 2, step: 3, v: caQuercusB }, { sp: 2, step: 3, v: caQuercusC },
  { sp: 1, step: 3, v: caPiceaC }, { sp: 0, step: 3, v: caLarixE }, { sp: 0, step: 3, v: caLarixC },
  { sp: 1, step: 4, v: caPiceaA }, { sp: 1, step: 3, v: caPiceaB }, { sp: 6, step: 3, v: caSylvB },
  { sp: 0, step: 3, v: caLarixD }, { sp: 6, step: 3, v: caSylvA }, { sp: 5, step: 3, v: caLeucoA },
  { sp: 4, step: 2, v: caBetulaA }, { sp: 3, step: 3, v: caFagusA },
  { sp: 7, step: 1, v: caJuniperusA }, { sp: 7, step: 1, v: caJuniperusB },
];
const areaIdx: Series[] = [
  { sp: 0, step: 4, v: ciLarixA }, { sp: 6, step: 3, v: ciSylvB }, { sp: 4, step: 2, v: ciBetulaA },
  { sp: 5, step: 3, v: ciLeucoA }, { sp: 6, step: 3, v: ciSylvA }, { sp: 0, step: 3, v: ciLarixB },
  { sp: 0, step: 2, v: ciLarixC }, { sp: 1, step: 3, v: ciPiceaA }, { sp: 1, step: 3, v: ciPiceaB },
  { sp: 3, step: 3, v: ciFagusB }, { sp: 3, step: 2, v: ciFagusA }, { sp: 2, step: 3, v: ciQuercusA },
  { sp: 2, step: 2, v: ciQuercusC }, { sp: 2, step: 2, v: ciQuercusB },
  { sp: 7, step: 1, v: ciJuniperusA }, { sp: 7, step: 1, v: ciJuniperusB },
];

const FONT = '"Liberation Sans", Arial, Helvetica, sans-serif';
const TICK_FS = 19.5;
const LABEL_FS = 22;
const INK = '#222';

type PanelProps = {
  series: Series[];
  x0: number; axisEnd: number;
  yBottom: number; yTop: number; yMax: number;
  yTicks: number[]; yLabels: number[];
  label: React.ReactNode; labelX: number; labelY: number;
};

function Panel({ series, x0, axisEnd, yBottom, yTop, yMax, yTicks, yLabels, label, labelX, labelY }: PanelProps) {
  const x = d3.scaleLinear().domain([0, 400]).range([x0, x0 + 408]);
  const y = d3.scaleLinear().domain([0, yMax]).range([yBottom, yTop]);
  return (
    <g>
      {series.map((s, k) => {
        const path = d3.line<number>()
          .x((_, i) => x(i * s.step))
          .y(d => y(d))(s.v);
        return <path key={k} d={path || ''} fill="none" stroke={speciesColors[s.sp]} strokeWidth={1.15} strokeLinejoin="round" />;
      })}
      <line x1={x0} x2={axisEnd} y1={yBottom} y2={yBottom} stroke="#111" strokeWidth={1.8} />
      <line x1={x0} x2={x0} y1={yBottom} y2={y(yMax)} stroke="#111" strokeWidth={1.8} />
      {xTicks.map(t => (
        <line key={'xt' + t} x1={x(t)} x2={x(t)} y1={yBottom} y2={yBottom + (t % 100 === 0 ? 10 : 8)} stroke="#111" strokeWidth={1.8} />
      ))}
      {xTicks.filter(t => t % 100 === 0).map(t => (
        <text key={'xl' + t} x={x(t)} y={yBottom + 35} textAnchor="middle" fontSize={TICK_FS} fill={INK}>{t}</text>
      ))}
      {yTicks.map(t => (
        <line key={'yt' + t} x1={x0 - 10} x2={x0} y1={y(t)} y2={y(t)} stroke="#111" strokeWidth={1.8} />
      ))}
      {yLabels.map(t => (
        <text key={'yl' + t} x={x0 - 18} y={y(t) + 7} textAnchor="end" fontSize={TICK_FS} fill={INK}>{String(t)}</text>
      ))}
      <text transform={`translate(${labelX},${labelY}) rotate(-90)`} textAnchor="middle" fontSize={LABEL_FS} fill={INK}>{label}</text>
    </g>
  );
}

function Legend() {
  const rows = 4;
  return (
    <g>
      {speciesNames.map((n, i) => {
        const col = Math.floor(i / rows);
        const row = i % rows;
        const lx = col === 0 ? 172 : 357;
        const ly = 100 + row * 24;
        return (
          <g key={n}>
            <line x1={lx} x2={lx + 33} y1={ly} y2={ly} stroke={speciesColors[i]} strokeWidth={1.6} />
            <text x={lx + 38} y={ly + 7} fontSize={19.5} fill={INK}>{n}</text>
          </g>
        );
      })}
    </g>
  );
}

export default function App() {
  const rightTicks = [0, 20000, 40000, 60000, 80000, 100000];
  const yr = d3.scaleLinear().domain([0, 100000]).range([683, 436]);
  return (
    <svg width={1117} height={761} style={{ position: 'absolute', left: 0, top: 0, background: '#fff' }} fontFamily={FONT}>
      <rect width={1117} height={761} fill="#fff" />
      <text x={333} y={30} textAnchor="middle" fontSize={25} fill={INK}>Raw measurements</text>
      <text x={906} y={30} textAnchor="middle" fontSize={25} fill={INK}>Indexed measurements</text>

      <Panel series={ringRaw} x0={104} axisEnd={530} yBottom={338} yTop={88} yMax={6}
        yTicks={[0, 1, 2, 3, 4, 5, 6]} yLabels={[0, 2, 4, 6]}
        label="Ring width (mm)" labelX={47} labelY={208} />
      <Legend />

      <Panel series={ringIdx} x0={692} axisEnd={1117} yBottom={338} yTop={88} yMax={4}
        yTicks={[0, 0.5, 1, 1.5, 2, 2.5, 3, 3.5, 4]} yLabels={[0, 1, 2, 3, 4]}
        label="Ring-width index" labelX={642} labelY={203} />

      <Panel series={areaRaw} x0={104} axisEnd={530} yBottom={683} yTop={436} yMax={4000}
        yTicks={[0, 1000, 2000, 3000, 4000]} yLabels={[0, 1000, 2000, 3000, 4000]}
        label={<>Conduit area (μm<tspan fontSize={14} dy={-8}>2</tspan><tspan dy={8}>)</tspan></>} labelX={32} labelY={552} />
      <line x1={530} x2={530} y1={683} y2={436} stroke="#111" strokeWidth={1.8} />
      {rightTicks.map(t => (
        <g key={t}>
          <line x1={530} x2={540} y1={yr(t)} y2={yr(t)} stroke="#111" strokeWidth={1.8} />
          <text x={546} y={yr(t) + 7} fontSize={TICK_FS} fill={INK}>
            {t === 0 ? '0' : t === 100000 ? <>10<tspan fontSize={12} dy={-9}>5</tspan></> : <>{t / 10000}x10<tspan fontSize={12} dy={-9}>4</tspan></>}
          </text>
        </g>
      ))}

      <Panel series={areaIdx} x0={692} axisEnd={1117} yBottom={683} yTop={436} yMax={2.5}
        yTicks={[0, 0.5, 1, 1.5, 2, 2.5]} yLabels={[0, 0.5, 1, 1.5, 2, 2.5]}
        label="Conduit-area index" labelX={636} labelY={559} />

      <text x={327} y={746} textAnchor="middle" fontSize={LABEL_FS} fill={INK}>Cambial age (years)</text>
      <text x={914} y={746} textAnchor="middle" fontSize={LABEL_FS} fill={INK}>Cambial age (years)</text>
    </svg>
  );
}
